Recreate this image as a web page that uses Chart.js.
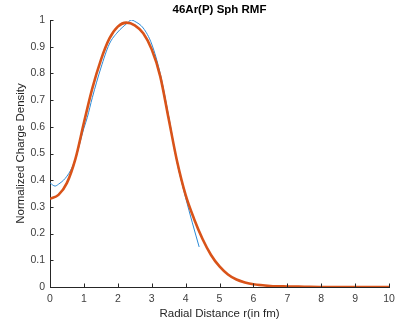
<!DOCTYPE html>
<html>
<head>
<meta charset="utf-8">
<script src="https://cdn.jsdelivr.net/npm/chart.js@4/dist/chart.umd.min.js"></script>
<style>
  html, body { margin: 0; padding: 0; background: #fff; }
  #wrap { position: relative; width: 395px; height: 327px; }
</style>
</head>
<body>
<div id="wrap"><canvas id="densityChart"></canvas></div>
<script>
/* ── DATA ─────────────────────────────────────────────── */
const titleText = '46Ar(P) Sph RMF';
const xLabel = 'Radial Distance r(in fm)';
const yLabel = 'Normalized Charge Density';

// thick orange curve (RMF)
const rmfR = [0, 0.25, 0.5, 0.75, 1, 1.25, 1.5, 1.75, 2, 2.25, 2.5, 2.75, 3, 3.25, 3.5, 3.75, 4,
              4.25, 4.5, 4.75, 5, 5.25, 5.5, 5.75, 6, 6.5, 7, 7.5, 8, 8.5, 9, 9.5, 10];
const rmfRho = [0.33, 0.345, 0.39, 0.48, 0.615, 0.745, 0.85, 0.93, 0.975, 0.99, 0.98, 0.95, 0.89, 0.79,
                0.63, 0.47, 0.345, 0.255, 0.18, 0.12, 0.077, 0.047, 0.028, 0.017, 0.01, 0.004, 0.002,
                0.001, 0, 0, 0, 0, 0];

// thin blue curve (experiment)
const expR = [0, 0.15, 0.25, 0.4, 0.5, 0.6, 0.75, 1, 1.1, 1.25, 1.5, 1.75, 2, 2.25, 2.4, 2.5, 2.75,
              3, 3.25, 3.5, 3.75, 4, 4.2, 4.4];
const expRho = [0.39, 0.378, 0.385, 0.4, 0.415, 0.435, 0.48, 0.595, 0.635, 0.71, 0.82, 0.91, 0.955,
                0.985, 1.0, 0.995, 0.97, 0.91, 0.8, 0.64, 0.465, 0.335, 0.24, 0.15];

const xTicks = [0, 1, 2, 3, 4, 5, 6, 7, 8, 9, 10];
const yTicks = [0, 0.1, 0.2, 0.3, 0.4, 0.5, 0.6, 0.7, 0.8, 0.9, 1];

/* ── THEME ────────────────────────────────────────────── */
const C = {
    blue:   '#2b8ad6',
    orange: '#d95319',
    axis:   '#262626',
    tick:   '#404040',
    font:   "'Liberation Sans', Arial, Helvetica, sans-serif",
};

function pts(xs, ys) { return xs.map((x, i) => ({ x: x, y: ys[i] })); }

/* inward MATLAB-style tick marks + title / axis labels */
const matlabDecor = {
    id: 'matlabDecor',
    afterDraw(chart) {
        const ctx = chart.ctx;
        const a = chart.chartArea;
        const sx = chart.scales.x, sy = chart.scales.y;
        ctx.save();
        ctx.strokeStyle = C.axis;
        ctx.lineWidth = 1;
        ctx.beginPath();
        xTicks.forEach(v => {
            const px = Math.round(sx.getPixelForValue(v)) + 0.5;
            ctx.moveTo(px, a.bottom); ctx.lineTo(px, a.bottom - 3.5);
        });
        yTicks.forEach(v => {
            const py = Math.round(sy.getPixelForValue(v)) + 0.5;
            ctx.moveTo(a.left, py); ctx.lineTo(a.left + 3.5, py);
        });
        ctx.stroke();

        ctx.fillStyle = '#000';
        ctx.textAlign = 'center';
        ctx.textBaseline = 'middle';
        ctx.font = 'bold 11.5px ' + C.font;
        ctx.fillText(titleText, (a.left + a.right) / 2, 10);

        ctx.fillStyle = C.axis;
        ctx.font = '11.5px ' + C.font;
        ctx.fillText(xLabel, (a.left + a.right) / 2, 314);

        ctx.translate(21, (a.top + a.bottom) / 2);
        ctx.rotate(-Math.PI / 2);
        ctx.fillText(yLabel, 0, 0);
        ctx.restore();
    }
};

new Chart(document.getElementById('densityChart'), {
    type: 'line',
    data: {
        datasets: [
            {
                label: 'RMF',
                data: pts(rmfR, rmfRho),
                borderColor: C.orange,
                borderWidth: 2.6,
                pointRadius: 0,
                cubicInterpolationMode: 'monotone',
                order: 1,
            },
            {
                label: 'Exp',
                data: pts(expR, expRho),
                borderColor: C.blue,
                borderWidth: 1,
                pointRadius: 0,
                cubicInterpolationMode: 'monotone',
                order: 2,
            }
        ]
    },
    options: {
        responsive: true,
        maintainAspectRatio: false,
        animation: false,
        layout: { padding: { top: 20, right: 0, left: 0, bottom: 0 } },
        plugins: { legend: { display: false }, tooltip: { enabled: false } },
        scales: {
            x: {
                type: 'linear',
                min: 0, max: 10,
                afterFit: s => { s.height = 40; s.paddingRight = 6; },
                afterBuildTicks: s => { s.ticks = xTicks.map(v => ({ value: v })); },
                grid: { display: false, drawTicks: false },
                border: { display: true, color: C.axis, width: 1 },
                ticks: {
                    color: C.tick, padding: 6, maxRotation: 0,
                    font: { family: C.font, size: 10.5 },
                }
            },
            y: {
                type: 'linear',
                min: 0, max: 1,
                afterFit: s => { s.width = 50; },
                afterBuildTicks: s => { s.ticks = yTicks.map(v => ({ value: v })); },
                grid: { display: false, drawTicks: false },
                border: { display: true, color: C.axis, width: 1 },
                ticks: {
                    color: C.tick, padding: 5,
                    font: { family: C.font, size: 10.5 },
                    callback: v => String(Number(v.toFixed(1)))
                }
            }
        }
    },
    plugins: [matlabDecor]
});
</script>
</body>
</html>
